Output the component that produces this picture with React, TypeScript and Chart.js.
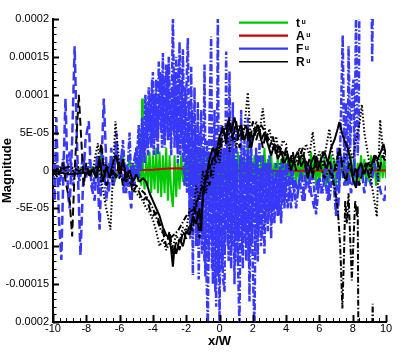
import React, { useEffect, useRef } from 'react';
import { Chart, registerables } from 'chart.js';

Chart.register(...registerables);

// All series values are in units of 1e-5 (Magnitude)
const UNIT = 1e-5;

const xTickValues = [-10, -8, -6, -4, -2, 0, 2, 4, 6, 8, 10];
const xTickLabels = ['-10', '-8', '-6', '-4', '-2', '0', '2', '4', '6', '8', '10'];
const yTickValues = [-2e-4, -1.5e-4, -1e-4, -5e-5, 0, 5e-5, 1e-4, 1.5e-4, 2e-4];
const yTickLabels = ['0.0002', '-0.00015', '-0.0001', '-5E-05', '0', '5E-05', '0.0001', '0.00015', '0.0002'];

const legendLabels = ['t', 'A', 'F', 'R'];
const legendColors = ['#00c800', '#cc0000', '#3838f8', '#000000'];

const xTitle = 'x/W';
const yTitle = 'Magnitude';

const greenT: [number, number][] = [
  [-10, 0.3], [-9.6, -0.3], [-9.2, 0.4], [-8.8, -0.4], [-8.4, 0.3], [-8.0, -0.5], [-7.6, 0.5], [-7.3, -1],
  [-7.1, 2.5], [-6.9, -1], [-6.6, 1], [-6.3, -1.5], [-6.0, 1], [-5.8, 2], [-5.6, -1], [-5.4, 1.5], [-5.2, -1],
  [-5.0, 1], [-4.9, -1.5], [-4.8, 2], [-4.7, -2], [-4.65, 9.5], [-4.6, 0], [-4.5, -2.5], [-4.4, 2], [-4.3, -2],
  [-4.2, 2.5], [-4.1, -3], [-4.0, 2], [-3.9, -2.5], [-3.8, 3], [-3.7, -3], [-3.6, 2.5], [-3.5, -3.5], [-3.4, 2],
  [-3.3, -3], [-3.2, 3], [-3.1, -4], [-3.0, 2], [-2.9, -3], [-2.8, -4.8], [-2.7, 2], [-2.6, -3.5], [-2.5, 1.5],
  [-2.4, -2.5], [-2.3, 2], [-2.2, -1.5], [-2.1, 1], [-2.0, -2], [-1.9, 2], [-1.8, -3], [-1.7, 2], [-1.6, -2],
  [-1.5, 3], [-1.4, -3], [-1.3, 2], [-1.2, -2.5], [-1.1, 3], [-1.0, -4], [-0.9, 2], [-0.8, -3], [-0.7, 2.5],
  [-0.6, -5], [-0.5, 2], [-0.4, -3], [-0.3, 2], [-0.2, -3], [-0.1, 3], [0.0, -2.5], [0.1, 2], [0.2, -3], [0.3, 2.5],
  [0.4, -2], [0.5, 2], [0.6, -3], [0.7, 3], [0.8, -2], [0.9, 2], [1.0, -2], [1.1, 2.5], [1.2, -1.5], [1.3, 2],
  [1.4, -2], [1.5, 1.5], [1.6, -1.5], [1.7, 4.5], [1.8, -1.5], [1.9, 2], [2.0, -1.5], [2.1, 2], [2.2, -2], [2.3, 1.5],
  [2.4, -2.5], [2.5, 2], [2.6, -1], [2.7, 3], [2.8, -2], [2.9, 1.5], [3.0, -1.5], [3.1, 2.5], [3.2, -2], [3.3, 1],
  [3.4, -1.5], [3.5, 2], [3.6, -2.5], [3.7, 1.5], [3.8, -1], [3.9, 2], [4.0, -1.5], [4.1, 1.5], [4.2, -2],
  [4.3, 2], [4.4, -1], [4.5, 1.5], [4.6, -2], [4.7, 1], [4.8, -1.5], [4.9, 2], [5.0, -1], [5.1, 1.5], [5.2, -2],
  [5.3, 1], [5.4, -1.5], [5.5, 2.5], [5.6, -1], [5.7, 1.5], [5.8, -2], [5.9, 1], [6.0, -1.5], [6.1, 2], [6.2, -1],
  [6.3, 1.5], [6.4, -2], [6.5, 1], [6.6, -1.5], [6.7, 2], [6.8, -1], [6.9, 1.5], [7.0, -2], [7.1, 1], [7.2, -1.5],
  [7.3, 2], [7.4, -1], [7.5, 1.5], [7.6, -2], [7.7, 1], [7.8, -1.5], [7.9, 2], [8.0, -1], [8.1, 1.5], [8.2, -2],
  [8.3, 1], [8.4, -1.5], [8.5, 2], [8.6, -1], [8.7, 1.5], [8.8, -2], [8.9, 1], [9.0, -1.5], [9.1, 2], [9.2, -1],
  [9.3, 1.5], [9.4, -2], [9.5, 1], [9.6, -1.5], [9.7, 2], [9.8, -1], [9.9, 1.5], [10, -1],
];

const redA: [number, number][] = [
  [-10, 0], [-7, 0], [-4, 0.1], [-3.5, 0.2], [-3, 0.25], [-2.5, 0.3], [-2, 0.2], [-1.5, 0.05], [-1, 0],
  [0, -0.1], [2, 0], [4, -0.05], [6, 0], [8, 0.05], [10, 0],
];

const blueDashed: [number, number][] = [
  [-10, 1], [-9.9, -4], [-9.8, 7], [-9.65, -6], [-9.5, -11.8], [-9.35, 2], [-9.25, 9.5], [-9.1, -3], [-9.0, -5],
  [-8.85, 4], [-8.7, 16.4], [-8.55, 3], [-8.35, -11.2], [-8.2, -2], [-8.05, 4], [-7.85, 6.5], [-7.7, -2],
  [-7.5, -4], [-7.35, 2], [-7.2, -7.8], [-7.05, 3], [-6.95, 9.5], [-6.8, 1], [-6.65, -3], [-6.5, 3], [-6.35, -2],
  [-6.2, 5], [-6.05, -1], [-5.9, 2], [-5.75, -3], [-5.6, 1], [-5.45, -2], [-5.3, -5], [-5.15, 1], [-5.0, 3],
  [-4.85, -1], [-4.7, 4], [-4.5, 2], [-4.3, 8], [-4.1, 3], [-3.9, 10], [-3.7, 5], [-3.5, 12], [-3.3, 4], [-3.1, 11],
  [-2.9, 6], [-2.7, 13], [-2.5, 3], [-2.3, 9], [-2.1, -2], [-1.9, 6], [-1.7, -8], [-1.5, 3], [-1.3, -10],
  [-1.1, 2], [-0.9, -12], [-0.7, 1], [-0.5, -9], [-0.3, 4], [-0.1, -14], [0.1, 3], [0.3, -11], [0.5, 2],
  [0.7, -9], [0.9, 1], [1.1, -12], [1.3, 0], [1.5, -8], [1.7, 2], [1.9, -10], [2.1, -1], [2.3, -7], [2.5, 0],
  [2.7, -6], [2.9, 1], [3.1, -5], [3.3, -1], [3.5, -6], [3.7, 0], [3.9, -4], [4.1, 1], [4.3, -5], [4.5, -1],
  [4.7, -3], [4.9, 0], [5.1, -4], [5.3, 1], [5.5, -3], [5.7, -5], [5.9, -1], [6.1, -3], [6.3, 0], [6.5, -4],
  [6.7, 1], [6.9, -2], [7.1, -6], [7.3, 2], [7.5, -2], [7.7, 1], [7.9, -3], [8.1, 0], [8.3, -2], [8.5, 1],
  [8.7, -3], [8.9, 0], [9.1, -2], [9.3, 1], [9.5, -1], [9.7, -3], [9.9, -4], [10, -2],
];

const blueDashDot: [number, number][] = [
  [-10, 0], [-9.8, 2], [-9.6, -2], [-9.4, 1.5], [-9.2, -1], [-9.0, 2.5], [-8.8, -2], [-8.6, 1], [-8.4, -1.5],
  [-8.2, 2], [-8.0, -1], [-7.8, 1.5], [-7.6, -2.5], [-7.4, 1], [-7.2, -3], [-7.0, 2], [-6.8, -4], [-6.6, 1],
  [-6.4, -2], [-6.2, 3], [-6.0, -1], [-5.8, 4], [-5.6, -3], [-5.4, 5], [-5.3, -2], [-5.2, 1], [-5.1, -2],
  [-5.0, 3], [-4.9, -1], [-4.8, 5], [-4.7, 0], [-4.6, 6], [-4.5, 1], [-4.4, 9], [-4.3, 2], [-4.2, 10], [-4.1, 3],
  [-4.0, 13], [-3.9, 4], [-3.8, 12], [-3.7, 2], [-3.65, 14.4], [-3.5, 5], [-3.4, 15.5], [-3.3, 3], [-3.2, 14],
  [-3.1, 4], [-3.05, 15], [-2.9, 2], [-2.8, 21], [-2.7, 3], [-2.6, 15], [-2.5, 1], [-2.4, 17], [-2.3, 4],
  [-2.2, 16], [-2.1, 2], [-1.9, 17.5], [-1.8, -6], [-1.7, 13.7], [-1.6, -13.8], [-1.5, 11], [-1.4, -10],
  [-1.3, 9], [-1.25, -14.4], [-1.1, 8], [-1.0, -9], [-0.9, 14], [-0.8, -12], [-0.7, -21], [-0.6, 7],
  [-0.5, 17.7], [-0.4, -15], [-0.3, 8], [-0.2, -18], [-0.1, 21], [0.0, -21], [0.1, 6], [0.2, -14], [0.3, -16],
  [0.4, 15.7], [0.5, -10], [0.6, 13.1], [0.7, -13], [0.8, 9], [0.9, -15], [1.0, 6], [1.1, -11], [1.2, -21],
  [1.3, 8], [1.4, -13], [1.5, 4], [1.6, -12], [1.7, 7], [1.8, -17.3], [1.9, 5], [2.0, -13], [2.1, -21], [2.2, 3],
  [2.3, -12], [2.4, 4], [2.5, -10], [2.6, 2], [2.7, -11], [2.8, 1], [2.9, -8], [3.0, 2], [3.1, -9], [3.2, 0],
  [3.3, -7], [3.4, 1], [3.5, -6], [3.6, 0], [3.7, -7], [3.8, 1], [3.9, -5], [4.0, 1], [4.2, -4], [4.4, 0],
  [4.6, -5], [4.8, -1], [5.0, -4], [5.2, 1], [5.4, -3], [5.6, 0], [5.8, -5.8], [6.0, -1], [6.2, -3], [6.4, 1],
  [6.6, -4], [6.8, 0], [7.0, -6], [7.1, 3], [7.2, -2], [7.3, 8], [7.4, 17.9], [7.5, 0], [7.6, 9], [7.7, -2],
  [7.75, 16.4], [7.85, 3], [7.95, 10], [8.05, 12], [8.1, 0], [8.2, 21], [8.3, 2], [8.36, 5], [8.42, 30],
  [9.1, 30], [9.17, 14.4], [9.25, 30],
];

const blueDotted: [number, number][] = [
  [-4.95, 2], [-4.85, 6], [-4.75, 1], [-4.65, 7], [-4.55, 2], [-4.45, 10], [-4.35, 3], [-4.25, 11], [-4.15, 5],
  [-4.05, 12], [-3.95, 2], [-3.85, 10], [-3.75, 4], [-3.55, 13], [-3.45, 3], [-3.35, 12], [-3.25, 5],
  [-3.15, 13.5], [-2.95, 4], [-2.85, 11], [-2.75, 5], [-2.65, 12], [-2.55, 3], [-2.45, 14], [-2.35, 2],
  [-2.25, 12], [-2.15, 1], [-2.05, 11], [-1.95, -3], [-1.85, 9], [-1.75, -9], [-1.65, 8], [-1.55, -7],
  [-1.45, 6], [-1.35, -8], [-1.2, 5], [-1.05, -11], [-0.95, 3], [-0.85, -14], [-0.75, 4], [-0.65, -12],
  [-0.55, 2], [-0.45, -13], [-0.35, 3], [-0.25, -16], [-0.15, 4], [-0.05, -12], [0.05, 2], [0.15, -13],
  [0.25, 3], [0.35, -9], [0.45, 5], [0.55, -12], [0.65, 2], [0.75, -10], [0.85, 3], [0.95, -12], [1.05, 1],
  [1.15, -9], [1.25, 2], [1.35, -11], [1.45, 3], [1.55, -9], [1.65, 1], [1.75, -12], [1.85, 2], [1.95, -9],
  [2.05, 1], [2.15, -11], [2.25, 2], [2.35, -8], [2.45, 0], [2.55, -9], [2.65, 1], [2.75, -7], [2.85, 0],
  [2.95, -6], [3.05, 1], [3.15, -7], [3.25, -1], [3.35, -5], [3.45, 0], [3.55, -6], [3.65, 1], [3.75, -4],
  [3.9, 0], [4.1, -5], [4.3, 0], [4.5, -3],
];

const blackSolid: [number, number][] = [
  [-10, -0.5], [-9.5, -0.3], [-9, -0.5], [-8.5, -0.4], [-8, -0.3], [-7.6, 0], [-7.4, -1], [-7.2, 1.5],
  [-7.0, -1.5], [-6.8, 0.5], [-6.6, -1], [-6.4, 1], [-6.2, 2], [-6.0, -0.5], [-5.8, 1.5], [-5.6, -1], [-5.4, 0],
  [-5.2, -1.5], [-5.0, -0.5], [-4.8, -1.5], [-4.6, -1], [-4.4, -1.5], [-4.2, -3], [-4.0, -4], [-3.8, -5],
  [-3.6, -6], [-3.4, -7.5], [-3.2, -8.5], [-3.0, -9], [-2.9, -10.5], [-2.8, -12.7], [-2.7, -10], [-2.6, -11],
  [-2.4, -9], [-2.2, -10], [-2.0, -8], [-1.8, -8.5], [-1.6, -6], [-1.4, -7], [-1.2, -5], [-1.1, -8], [-1.0, -3],
  [-0.8, -1], [-0.6, 1.5], [-0.4, 3], [-0.2, 2], [0.0, 4.5], [0.2, 5.5], [0.4, 4], [0.5, 6.5], [0.7, 5],
  [0.9, 7], [1.1, 5], [1.3, 6], [1.5, 4], [1.7, 5.5], [1.9, 3], [2.1, 5], [2.3, 6], [2.5, 4], [2.7, 5],
  [2.9, 3.5], [3.1, 2], [3.3, 3.5], [3.5, 1.5], [3.7, 2.5], [3.9, 1], [4.1, 2], [4.3, 0], [4.5, 1.5], [4.7, 2.5],
  [4.9, 0.5], [5.1, 1.5], [5.3, -1], [5.5, 1], [5.7, 2], [5.9, 0], [6.1, 1.5], [6.3, 2.5], [6.5, 1], [6.7, 3],
  [6.9, 4], [7.1, 5.5], [7.2, 6.4], [7.35, 5], [7.5, 4], [7.7, 3], [7.9, 1], [8.0, -1], [8.2, -2.3], [8.3, 0],
  [8.5, 1], [8.7, -0.5], [8.9, 1], [9.1, 0.5], [9.3, 2], [9.5, 1.5], [9.7, 2.5], [9.85, 3.5], [10, 2],
];

const blackDashed: [number, number][] = [
  [-10, 0], [-9.7, -1], [-9.4, 1], [-9.2, -2], [-9.0, -4], [-8.85, -8.7], [-8.7, 0], [-8.55, 6], [-8.45, 10],
  [-8.3, 4], [-8.15, -2], [-8.0, 1], [-7.8, -1], [-7.6, 0.5], [-7.4, -1], [-7.2, 2], [-7.1, 3.6], [-7.0, 1],
  [-6.8, -2], [-6.6, -1], [-6.4, 0], [-6.2, -1], [-6.0, 1], [-5.8, -2], [-5.6, 0], [-5.4, -1], [-5.2, -3],
  [-5.0, -2], [-4.8, -3], [-4.6, -4], [-4.4, -3.5], [-4.2, -5], [-4.0, -6], [-3.8, -5.5], [-3.6, -7], [-3.4, -8],
  [-3.2, -10], [-3.0, -8], [-2.8, -11], [-2.6, -9.5], [-2.4, -10.5], [-2.2, -8], [-2.0, -9], [-1.8, -7],
  [-1.6, -8], [-1.4, -4], [-1.2, -9], [-1.0, -4], [-0.8, 0], [-0.6, -2], [-0.4, 2], [-0.2, 1], [0.0, 3], [0.2, 6],
  [0.4, 3.5], [0.6, 7], [0.8, 4], [1.0, 6.5], [1.2, 3], [1.4, 5], [1.6, 6], [1.8, 3], [2.0, 6.5], [2.2, 4],
  [2.4, 5.5], [2.6, 3], [2.8, 5], [3.0, 3], [3.2, 4.5], [3.4, 2], [3.6, 3.5], [3.8, 1], [4.0, 3], [4.2, 1],
  [4.4, 2.5], [4.6, 0], [4.8, 1.5], [5.0, 3], [5.2, 0], [5.4, 1.5], [5.6, -1], [5.8, 2], [6.0, 0.5], [6.2, 2.5],
  [6.4, 0], [6.6, 1.5], [6.8, -1], [7.0, 1], [7.2, 3], [7.4, 0], [7.6, -1.5], [7.8, 1], [8.0, -1], [8.2, 0.5],
  [8.4, -2], [8.6, 0], [8.8, 1], [9.0, -1], [9.2, 0.5], [9.4, 2], [9.6, 0], [9.8, 2], [10, 1],
];

const blackDotted: [number, number][] = [
  [-10, 0], [-9.5, 0.5], [-9.0, -0.5], [-8.5, 0.5], [-8.0, -0.5], [-7.6, 0], [-7.45, 2], [-7.3, 3.6],
  [-7.15, -1], [-7.0, -2.5], [-6.85, -4.5], [-6.7, -6], [-6.55, -7.8], [-6.45, -3], [-6.35, 2], [-6.25, 6.5],
  [-6.1, 3], [-5.95, -1], [-5.8, 1], [-5.6, -1.5], [-5.4, 0], [-5.2, -2], [-5.0, -3], [-4.8, -3.5], [-4.6, -4],
  [-4.4, -5], [-4.2, -5.5], [-4.0, -6.5], [-3.8, -8], [-3.6, -10], [-3.4, -9], [-3.2, -10.5], [-3.0, -9.5],
  [-2.8, -10], [-2.6, -8.5], [-2.4, -9.5], [-2.2, -7.5], [-2.0, -8], [-1.8, -5], [-1.6, -6], [-1.4, -2],
  [-1.2, -4], [-1.0, 0], [-0.8, -3], [-0.6, 1], [-0.4, -1], [-0.2, 3], [0.0, 1], [0.2, 5], [0.4, 6], [0.6, 2.5],
  [0.8, 5], [1.0, 3], [1.2, 6], [1.4, 4], [1.55, 7], [1.7, 10.3], [1.85, 5], [2.0, 4], [2.2, 6.5], [2.4, 5],
  [2.6, 8.2], [2.8, 4], [3.0, 5.5], [3.2, 3], [3.4, 4.5], [3.6, 2], [3.8, 4], [4.0, 3.5], [4.2, 0], [4.4, 2],
  [4.6, 1], [4.8, 3], [5.0, 1.5], [5.2, 3.5], [5.4, 2], [5.6, 5.1], [5.8, 1], [6.0, 2.5], [6.2, 0.5], [6.4, 3],
  [6.6, 5.5], [6.8, 2], [7.0, 0], [7.2, 2.5], [7.4, 1], [7.6, 2], [7.8, 3], [8.0, 1.5], [8.2, 4], [8.4, 6],
  [8.55, 8.7], [8.7, 5], [8.85, 3], [9.0, 1], [9.15, -2], [9.3, -4], [9.45, -6.1], [9.55, 1], [9.65, 6.7],
  [9.8, 3], [10, 1],
];

const blackDashDot: [number, number][] = [
  [-10, 0], [-9, 0.5], [-8, -0.5], [-7, 1], [-6, -1], [-5, -2], [-4.5, -3], [-4, -5], [-3.5, -8], [-3, -9],
  [-2.5, -8], [-2, -6], [-1.5, -5], [-1.0, -2], [-0.5, 1], [0, 3], [0.5, 5], [1, 4], [1.5, 5.5], [2, 4.5],
  [2.5, 6], [3, 4], [3.5, 3], [4, 2], [4.5, 1], [5, 2], [5.5, 0], [6.0, 1], [6.3, -1], [6.6, 0], [6.9, -2],
  [7.1, -5], [7.25, -10], [7.38, -18.2], [7.48, -11], [7.55, -4], [7.65, -7], [7.75, -3], [7.85, -9],
  [7.95, -14.5], [8.05, -9], [8.15, -4], [8.25, -6], [8.3, -4.7], [8.36, -30], [9.1, -30], [9.2, -17.6],
  [9.3, -30],
];

const FONT = "'Liberation Sans', Arial, Helvetica, sans-serif";

const inwardTicks = {
  id: 'inwardTicks',
  afterDraw(chart: any) {
    const { ctx, chartArea: a, scales } = chart;
    const xs = scales.x;
    const ys = scales.y;
    ctx.save();
    ctx.strokeStyle = '#000';
    const seg = (x1: number, y1: number, x2: number, y2: number, w: number) => {
      ctx.lineWidth = w;
      ctx.beginPath();
      ctx.moveTo(x1, y1);
      ctx.lineTo(x2, y2);
      ctx.stroke();
    };
    for (let i = 0; i <= 50; i++) {
      const v = -10 + i * 0.4;
      const px = Math.round(xs.getPixelForValue(v)) + 0.5;
      if (i % 5 === 0) seg(px, a.bottom, px, a.bottom - 7, 2);
      else seg(px, a.bottom, px, a.bottom - 4, 1);
    }
    for (let i = 0; i <= 40; i++) {
      const v = -2e-4 + i * 1e-5;
      const py = Math.round(ys.getPixelForValue(v)) + 0.5;
      if (i % 5 === 0) seg(a.left, py, a.left + 6, py, 2);
      else seg(a.left, py, a.left + 3.5, py, 1);
    }
    ctx.restore();
  },
};

const legendPlugin = {
  id: 'tecLegend',
  afterDraw(chart: any) {
    const ctx = chart.ctx;
    ctx.save();
    legendLabels.forEach((lab, i) => {
      const yy = 22.7 + i * 13;
      ctx.strokeStyle = legendColors[i];
      ctx.lineWidth = i === 3 ? 1.6 : 2.2;
      ctx.beginPath();
      ctx.moveTo(239, yy);
      ctx.lineTo(288, yy);
      ctx.stroke();
      ctx.fillStyle = '#000';
      ctx.textBaseline = 'alphabetic';
      ctx.textAlign = 'left';
      ctx.font = `bold 12px ${FONT}`;
      ctx.fillText(lab, 296, yy + 4.2);
      const w = ctx.measureText(lab).width;
      ctx.font = `bold 7px ${FONT}`;
      ctx.fillText('u', 296 + w + 1.5, yy + 0.8);
    });
    ctx.restore();
  },
};

const toPts = (arr: [number, number][]) => arr.map(([x, y]) => ({ x, y: y * UNIT }));

export default function App() {
  const ref = useRef<HTMLCanvasElement>(null);

  useEffect(() => {
    const common = {
      pointRadius: 0,
      fill: false,
      tension: 0,
      borderJoinStyle: 'bevel' as const,
      borderCapStyle: 'butt' as const,
    };
    const blue = legendColors[2];
    const chart = new Chart(ref.current as HTMLCanvasElement, {
      type: 'line',
      data: {
        datasets: [
          { ...common, label: 'tu', data: toPts(greenT), borderColor: legendColors[0], borderWidth: 2, order: 4 },
          { ...common, label: 'Au', data: toPts(redA), borderColor: legendColors[1], borderWidth: 2, order: 3 },
          { ...common, label: 'Fu dashed', data: toPts(blueDashed), borderColor: blue, borderWidth: 2.5, borderDash: [9, 4], order: 2 },
          { ...common, label: 'Fu dashdot', data: toPts(blueDashDot), borderColor: blue, borderWidth: 2.5, borderDash: [7, 2, 1.5, 2], order: 2 },
          { ...common, label: 'Fu dotted', data: toPts(blueDotted), borderColor: blue, borderWidth: 2.5, borderDash: [4, 1.5], order: 2 },
          { ...common, label: 'Ru', data: toPts(blackSolid), borderColor: '#000', borderWidth: 2, order: 1 },
          { ...common, label: 'Ru dashed', data: toPts(blackDashed), borderColor: '#000', borderWidth: 2, borderDash: [8, 4], order: 1 },
          { ...common, label: 'Ru dotted', data: toPts(blackDotted), borderColor: '#000', borderWidth: 2, borderDash: [1.5, 2], order: 1 },
          { ...common, label: 'Ru dashdot', data: toPts(blackDashDot), borderColor: '#000', borderWidth: 2, borderDash: [6, 2, 1.5, 2], order: 1 },
        ],
      },
      options: {
        animation: false,
        responsive: false,
        devicePixelRatio: 1,
        events: [],
        layout: { padding: { top: 19, right: 21, left: 0, bottom: 0 } },
        plugins: { legend: { display: false }, tooltip: { enabled: false } },
        scales: {
          x: {
            type: 'linear',
            min: -10,
            max: 10,
            grid: { display: false, drawTicks: false },
            border: { display: true, width: 2, color: '#000' },
            ticks: {
              font: { family: FONT, size: 11 },
              color: '#000',
              padding: 0,
              autoSkip: false,
              maxRotation: 0,
              callback: (v: any) => xTickLabels[xTickValues.indexOf(Number(v))] ?? '',
            },
            afterBuildTicks: (s: any) => {
              s.ticks = xTickValues.map((v) => ({ value: v }));
            },
            afterFit: (s: any) => {
              s.height = 40;
            },
            title: {
              display: true,
              text: xTitle,
              font: { family: FONT, size: 13, weight: 'bold' },
              color: '#000',
              padding: { top: 0, bottom: 13 },
            },
          },
          y: {
            type: 'linear',
            min: -2e-4,
            max: 2e-4,
            grid: { display: false, drawTicks: false },
            border: { display: true, width: 2, color: '#000' },
            ticks: {
              font: { family: FONT, size: 11 },
              color: '#000',
              padding: 4,
              autoSkip: false,
              callback: (v: any) => yTickLabels[yTickValues.indexOf(Number(v))] ?? '',
            },
            afterBuildTicks: (s: any) => {
              s.ticks = yTickValues.map((v) => ({ value: v }));
            },
            afterFit: (s: any) => {
              s.width = 53;
            },
            title: {
              display: true,
              text: yTitle,
              font: { family: FONT, size: 13, weight: 'bold' },
              color: '#000',
              padding: { top: 0, bottom: 0 },
            },
          },
        },
      } as any,
      plugins: [inwardTicks, legendPlugin],
    });
    return () => chart.destroy();
  }, []);

  return (
    <div style={{ position: 'absolute', left: 0, top: 0, width: 407, height: 362, background: '#fff' }}>
      <canvas ref={ref} width={407} height={362} style={{ display: 'block', width: 407, height: 362 }} />
    </div>
  );
}
